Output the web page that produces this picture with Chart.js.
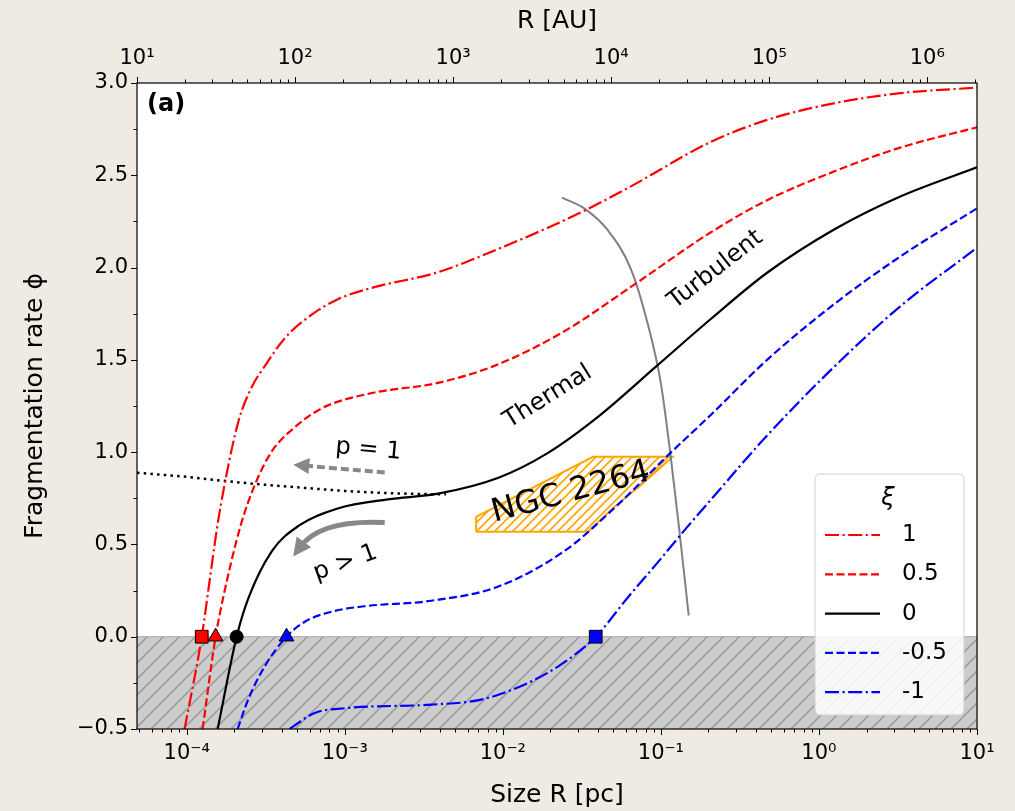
<!DOCTYPE html>
<html>
<head>
<meta charset="utf-8">
<script src="https://cdn.jsdelivr.net/npm/chart.js@4.4.1/dist/chart.umd.min.js"></script>
<style>
  html, body { margin: 0; padding: 0; background: #efebe3; }
  #wrap { width: 1015px; height: 811px; position: relative; }
</style>
</head>
<body>
<div id="wrap"><canvas id="frag-canvas"></canvas></div>
<script>
const PC_TO_AU = 206265;
const xMin = 10 / PC_TO_AU;
const xMax = 10;

// xi = 1 (red, dash-dot)
const rXi1   = [9.7e-5, 1.245e-4, 1.40e-4, 1.55e-4, 1.75e-4, 2.13e-4, 2.57e-4, 3.14e-4, 4.2e-4, 6.18e-4, 9.12e-4, 1.48e-3, 3.89e-3, 9.29e-3, 2.97e-2, 6.46e-2, 0.206, 0.47, 1.24, 3.27, 10];
const phiXi1 = [-0.5, 0, 0.31, 0.58, 0.84, 1.17, 1.35, 1.47, 1.62, 1.745, 1.83, 1.89, 1.975, 2.10, 2.29, 2.44, 2.68, 2.80, 2.89, 2.945, 2.975];

// xi = 0.5 (red, dashed)
const rXi05   = [1.26e-4, 1.524e-4, 1.69e-4, 2.19e-4, 2.72e-4, 3.46e-4, 4.62e-4, 7.14e-4, 1.48e-3, 3.89e-3, 9.29e-3, 2.45e-2, 6.46e-2, 0.206, 0.47, 1.24, 3.27, 10];
const phiXi05 = [-0.5, 0, 0.2, 0.6, 0.83, 1.005, 1.121, 1.237, 1.32, 1.375, 1.475, 1.655, 1.895, 2.19, 2.365, 2.52, 2.65, 2.76];

// xi = 0 (black, solid)
const rXi0   = [1.57e-4, 2.07e-4, 2.46e-4, 3.46e-4, 5.09e-4, 9.12e-4, 1.88e-3, 3.89e-3, 9.29e-3, 1.92e-2, 3.98e-2, 9.5e-2, 0.206, 0.47, 1.24, 3.27, 10];
const phiXi0 = [-0.5, 0, 0.21, 0.464, 0.60, 0.696, 0.744, 0.775, 0.86, 0.995, 1.19, 1.47, 1.72, 1.972, 2.205, 2.385, 2.543];

// xi = -0.5 (blue, dashed)
const rXiM05   = [2.1e-4, 2.45e-4, 3.12e-4, 4.28e-4, 5.56e-4, 8.2e-4, 1.33e-3, 3.52e-3, 9.29e-3, 2.45e-2, 5.06e-2, 0.115, 0.206, 0.47, 1.24, 3.27, 10];
const phiXiM05 = [-0.5, -0.34, -0.16, 0, 0.08, 0.135, 0.165, 0.195, 0.271, 0.464, 0.696, 0.996, 1.2, 1.50, 1.80, 2.06, 2.321];

// xi = -1 (blue, dash-dot)
const rXiM1   = [4.47e-4, 6.46e-4, 1.05e-3, 3.52e-3, 7.28e-3, 1.44e-2, 2.34e-2, 3.87e-2, 6.14e-2, 9.5e-2, 0.147, 0.206, 0.47, 1.24, 3.27, 10];
const phiXiM1 = [-0.5, -0.413, -0.386, -0.368, -0.341, -0.251, -0.15, 0, 0.21, 0.40, 0.595, 0.74, 1.09, 1.46, 1.79, 2.108];

// p = 1 limit (dotted)
const rDot   = [4.85e-5, 1e-4, 1.78e-4, 3.16e-4, 5.62e-4, 1e-3, 1.78e-3, 3.16e-3, 4.37e-3];
const phiDot = [0.888, 0.866, 0.843, 0.823, 0.806, 0.79, 0.779, 0.773, 0.772];

// thermal / turbulent boundary (grey)
const rBound   = [2.37e-2, 3.27e-2, 4.59e-2, 6.46e-2, 8.22e-2, 0.1, 0.115, 0.13, 0.150];
const phiBound = [2.379, 2.321, 2.205, 1.992, 1.702, 1.373, 0.986, 0.599, 0.115];

// NGC 2264 region
const rNgc   = [6.78e-3, 3.45e-2, 5.03e-2, 7.45e-2, 0.1186, 3.72e-2, 6.78e-3, 6.78e-3];
const phiNgc = [0.569, 0.569, 0.70, 0.82, 0.975, 0.975, 0.65, 0.569];

// zero crossings
const markerR   = [1.245e-4, 1.524e-4, 2.07e-4, 4.28e-4, 3.87e-2];
const markerPhi = [0, 0, 0, 0, 0];
const markerShape  = ['rect', 'triangle', 'circle', 'triangle', 'rect'];
const markerColor  = ['#ff0000', '#ff0000', '#000000', '#0000ff', '#0000ff'];
const markerRadius = [9, 8.5, 6.5, 8.5, 9];

const pcTicks  = [1e-4, 1e-3, 1e-2, 1e-1, 1, 10];
const auTicks  = [1e1, 1e2, 1e3, 1e4, 1e5, 1e6];
const phiTicks = [-0.5, 0, 0.5, 1.0, 1.5, 2.0, 2.5, 3.0];

const FONT = 'DejaVu Sans';
Chart.defaults.font.family = FONT;

const dashDot = [14, 3.5, 2.2, 3.5];
const dashed = [8, 3.5];

const pts = (xs, ys) => xs.map((x, i) => ({x: x, y: ys[i]}));
const SUP = {'-': '\u207B', '0': '\u2070', '1': '\u00B9', '2': '\u00B2', '3': '\u00B3',
             '4': '\u2074', '5': '\u2075', '6': '\u2076', '7': '\u2077', '8': '\u2078', '9': '\u2079'};
const decade = v => '10' + String(Math.round(Math.log10(v))).split('').map(c => SUP[c]).join('');
const fmtPhi = v => (v < 0 ? '\u2212' : '') + Math.abs(v).toFixed(1);

const canvas = document.getElementById('frag-canvas');
const ctx = canvas.getContext('2d');

function hatch(size, bg, fg, lw) {
    const c = document.createElement('canvas');
    c.width = size; c.height = size;
    const g = c.getContext('2d');
    if (bg) { g.fillStyle = bg; g.fillRect(0, 0, size, size); }
    g.strokeStyle = fg;
    g.lineWidth = lw;
    g.beginPath();
    g.moveTo(0, size); g.lineTo(size, 0);
    g.moveTo(-size / 2, size / 2); g.lineTo(size / 2, -size / 2);
    g.moveTo(size / 2, size * 1.5); g.lineTo(size * 1.5, size / 2);
    g.stroke();
    return ctx.createPattern(c, 'repeat');
}

function line(label, xs, ys, color, dash, order) {
    return {
        label: label, data: pts(xs, ys), showLine: true, borderColor: color, borderWidth: 2.2,
        borderDash: dash, borderCapStyle: 'butt', pointRadius: 0, fill: false,
        cubicInterpolationMode: 'monotone', order: order
    };
}

// text labels in data coordinates
const notes = [
    {text: 'Thermal',   r: 1.93e-2, phi: 1.30,  rot: -32, size: 24},
    {text: 'Turbulent', r: 0.222,   phi: 1.988, rot: -38, size: 24},
    {text: 'NGC 2264',  r: 2.70e-2, phi: 0.78,  rot: -15, size: 32},
    {text: 'p = 1',     r: 1.41e-3, phi: 1.013, rot: 5,   size: 24},
    {text: 'p > 1',     r: 1.01e-3, phi: 0.40,  rot: -20, size: 24}
];

function arrowHead(g, tx, ty, ang, len, wid) {
    const bx = tx - len * Math.cos(ang), by = ty - len * Math.sin(ang);
    g.beginPath();
    g.moveTo(tx, ty);
    g.lineTo(bx + wid / 2 * Math.sin(ang), by - wid / 2 * Math.cos(ang));
    g.lineTo(bx - wid / 2 * Math.sin(ang), by + wid / 2 * Math.cos(ang));
    g.closePath();
    g.fill();
}

const decor = {
    id: 'decor',
    beforeDraw(chart) {
        const {ctx: g, chartArea: a} = chart;
        g.save();
        g.fillStyle = '#efebe3';
        g.fillRect(0, 0, chart.width, chart.height);
        g.fillStyle = '#ffffff';
        g.fillRect(a.left, a.top, a.right - a.left, a.bottom - a.top);
        g.restore();
    },
    afterDatasetsDraw(chart) {
        const {ctx: g, chartArea: a, scales} = chart;
        const X = v => scales.x.getPixelForValue(v);
        const Y = v => scales.y.getPixelForValue(v);
        g.save();

        // arrows
        g.fillStyle = '#888888';
        g.strokeStyle = '#888888';
        // p = 1 : dashed straight arrow
        let tx = X(4.72e-4), ty = Y(0.932), sx = X(1.79e-3), sy = Y(0.89);
        let ang = Math.atan2(ty - sy, tx - sx);
        g.lineWidth = 4;
        g.setLineDash([8, 4]);
        g.beginPath();
        g.moveTo(sx, sy);
        g.lineTo(tx - 13 * Math.cos(ang), ty - 13 * Math.sin(ang));
        g.stroke();
        g.setLineDash([]);
        arrowHead(g, tx, ty, ang, 16, 16);
        // p > 1 : curved arrow
        tx = X(4.72e-4); ty = Y(0.435); sx = X(1.79e-3); sy = Y(0.619);
        const cx = X(7.0e-4), cy = Y(0.635);
        ang = Math.atan2(ty - cy, tx - cx);
        g.lineWidth = 5;
        g.beginPath();
        g.moveTo(sx, sy);
        g.quadraticCurveTo(cx, cy, tx - 12 * Math.cos(ang), ty - 12 * Math.sin(ang));
        g.stroke();
        arrowHead(g, tx, ty, ang, 18, 18);

        // text notes
        g.fillStyle = '#000';
        g.textAlign = 'center';
        g.textBaseline = 'middle';
        notes.forEach(n => {
            g.save();
            g.translate(X(n.r), Y(n.phi));
            g.rotate(n.rot * Math.PI / 180);
            g.font = n.size + 'px "' + FONT + '"';
            g.fillText(n.text, 0, 0);
            g.restore();
        });
        g.textAlign = 'left';
        g.font = 'bold 24px "' + FONT + '"';
        g.fillText('(a)', a.left + 10, a.top + 22);

        // legend
        const lx = a.right - 162, ly = a.top + 391, lw = 149, lh = 241;
        g.fillStyle = 'rgba(255,255,255,0.85)';
        g.strokeStyle = '#d0d0d0';
        g.lineWidth = 1;
        g.beginPath();
        g.roundRect(lx, ly, lw, lh, 5);
        g.fill();
        g.stroke();
        g.fillStyle = '#000';
        g.textAlign = 'center';
        g.font = 'italic 24px "' + FONT + '"';
        g.fillText('\u03BE', lx + 73, ly + 25);
        g.textAlign = 'left';
        g.font = '23px "' + FONT + '"';
        chart.data.datasets.filter(d => d.inLegend).forEach((d, i) => {
            const yy = ly + 61 + i * 39.3;
            g.strokeStyle = d.borderColor;
            g.lineWidth = 2.2;
            g.setLineDash(d.borderDash);
            g.beginPath();
            g.moveTo(lx + 10, yy);
            g.lineTo(lx + 65, yy);
            g.stroke();
            g.setLineDash([]);
            g.fillText(d.label, lx + 87, yy);
        });

        // frame
        g.strokeStyle = '#000';
        g.lineWidth = 1.2;
        g.strokeRect(a.left, a.top, a.right - a.left, a.bottom - a.top);

        // tick marks
        g.lineWidth = 1;
        g.beginPath();
        const logTicks = (scale, lo, hi, y0, dir) => {
            for (let e = Math.floor(Math.log10(lo)); e <= Math.ceil(Math.log10(hi)); e++) {
                for (let m = 1; m < 10; m++) {
                    const v = m * Math.pow(10, e);
                    if (v < lo * 0.9999 || v > hi * 1.0001) continue;
                    const px = Math.round(scale.getPixelForValue(v)) + 0.5;
                    g.moveTo(px, y0);
                    g.lineTo(px, y0 + dir * (m === 1 ? 6 : 3.5));
                }
            }
        };
        logTicks(scales.x, xMin, xMax, a.bottom, 1);
        logTicks(scales.x2, 10, xMax * PC_TO_AU, a.top, -1);
        for (let v = -0.5; v <= 3.0001; v += 0.25) {
            const py = Math.round(Y(v)) + 0.5;
            const major = Math.abs(v * 2 - Math.round(v * 2)) < 1e-6;
            g.moveTo(a.left, py);
            g.lineTo(a.left - (major ? 6 : 3.5), py);
        }
        g.stroke();
        g.restore();
    }
};

const tickFont = {family: FONT, size: 21};
const titleFont = {family: FONT, size: 25};

const datasets = [
    {
        label: 'markers', data: pts(markerR, markerPhi), showLine: false,
        pointStyle: markerShape, pointRadius: markerRadius, pointBackgroundColor: markerColor,
        pointBorderColor: '#000', pointBorderWidth: 1, order: 0
    },
    Object.assign(line('1', rXi1, phiXi1, '#ff0000', dashDot, 1), {inLegend: true}),
    Object.assign(line('0.5', rXi05, phiXi05, '#ff0000', dashed, 2), {inLegend: true}),
    Object.assign(line('0', rXi0, phiXi0, '#000000', [], 3), {inLegend: true}),
    Object.assign(line('-0.5', rXiM05, phiXiM05, '#0000ff', dashed, 4), {inLegend: true}),
    Object.assign(line('-1', rXiM1, phiXiM1, '#0000ff', dashDot, 5), {inLegend: true}),
    Object.assign(line('p=1', rDot, phiDot, '#000000', [2.5, 4.2], 6), {borderWidth: 2.5}),
    Object.assign(line('boundary', rBound, phiBound, '#808080', [], 7), {borderWidth: 2}),
    {
        label: 'NGC 2264', data: pts(rNgc, phiNgc), showLine: true, tension: 0,
        borderColor: '#ffa500', borderWidth: 2, pointRadius: 0,
        fill: 'shape', backgroundColor: hatch(9, null, '#ffa500', 1.6), order: 8
    },
    {
        label: 'phi<0', data: pts([xMin, xMax], [0, 0]), showLine: true,
        borderColor: '#a8a8a8', borderWidth: 1, pointRadius: 0,
        fill: 'start', backgroundColor: hatch(16, '#cccccc', '#a0a0a0', 1.6), order: 9
    }
];

const myChart = new Chart(ctx, {
    type: 'scatter',
    data: {datasets: datasets},
    plugins: [decor],
    options: {
        responsive: true,
        maintainAspectRatio: false,
        animation: false,
        events: [],
        layout: {padding: {left: 0, right: 38, top: 0, bottom: 0}},
        plugins: {legend: {display: false}, tooltip: {enabled: false}},
        scales: {
            x: {
                type: 'logarithmic', position: 'bottom', min: xMin, max: xMax,
                grid: {display: false, drawTicks: false}, border: {display: false},
                afterBuildTicks: s => { s.ticks = pcTicks.map(v => ({value: v})); },
                afterFit: s => { s.height = 82; },
                ticks: {callback: v => decade(v), font: tickFont, color: '#000', padding: 12, maxRotation: 0, autoSkip: false},
                title: {display: true, text: 'Size R [pc]', font: titleFont, color: '#000', padding: {top: 0, bottom: 1}}
            },
            x2: {
                type: 'logarithmic', position: 'top', min: 10, max: xMax * PC_TO_AU,
                grid: {display: false, drawTicks: false}, border: {display: false},
                afterBuildTicks: s => { s.ticks = auTicks.map(v => ({value: v})); },
                afterFit: s => { s.height = 83; },
                ticks: {callback: v => decade(v), font: tickFont, color: '#000', padding: 12, maxRotation: 0, autoSkip: false},
                title: {display: true, text: 'R [AU]', font: titleFont, color: '#000', padding: {top: 6, bottom: 0}}
            },
            y: {
                type: 'linear', min: -0.5, max: 3,
                grid: {display: false, drawTicks: false}, border: {display: false},
                afterBuildTicks: s => { s.ticks = phiTicks.map(v => ({value: v})); },
                afterFit: s => { s.width = 137; },
                ticks: {callback: v => fmtPhi(v), font: tickFont, color: '#000', padding: 9},
                title: {display: true, text: 'Fragmentation rate \u03D5', font: titleFont, color: '#000', padding: {top: 20, bottom: 0}}
            }
        }
    }
});
</script>
</body>
</html>
